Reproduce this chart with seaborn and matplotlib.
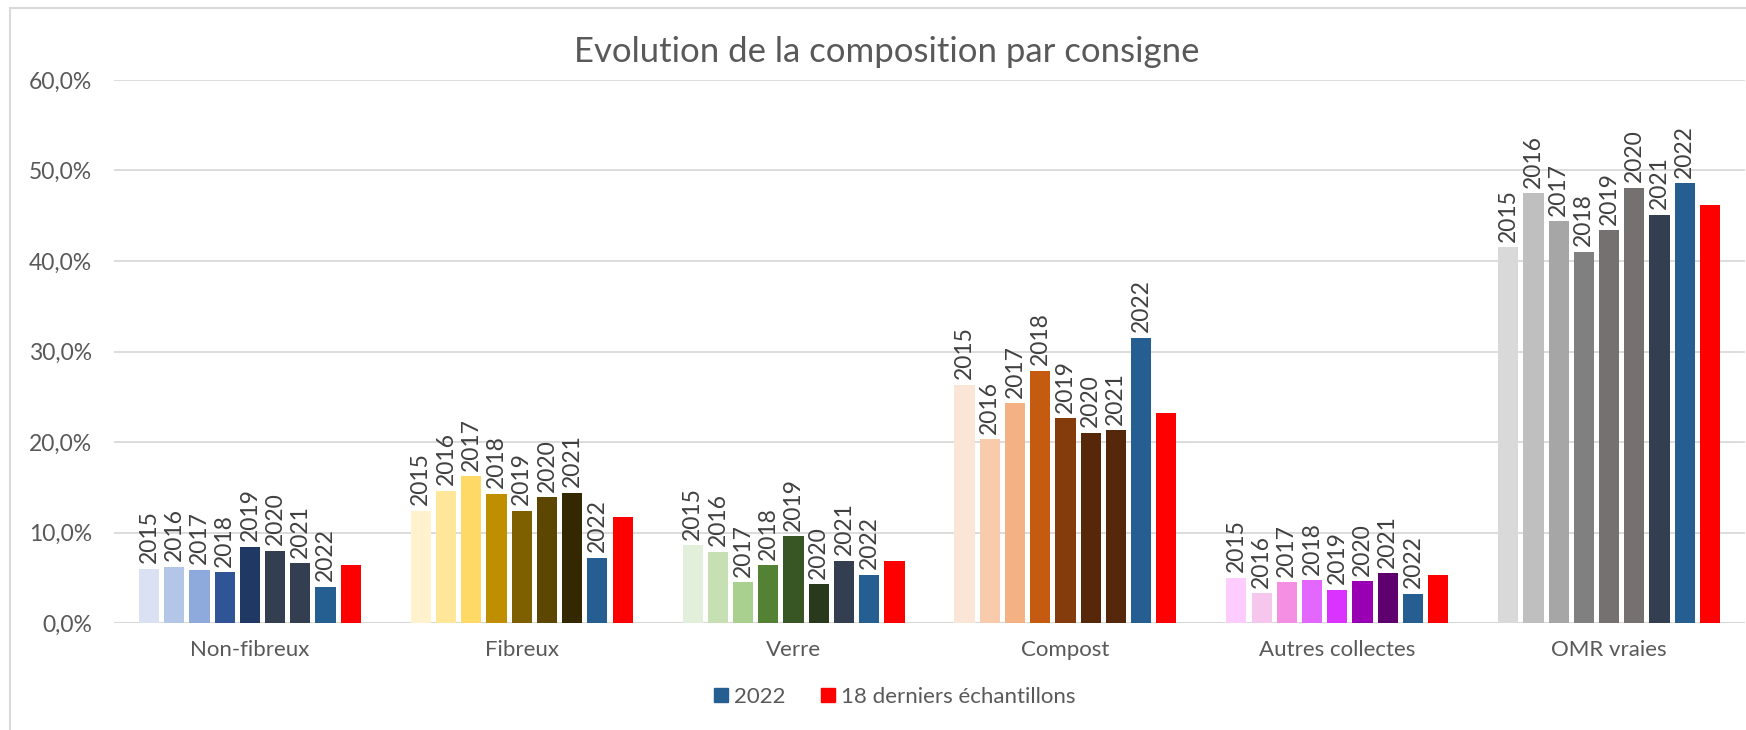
import matplotlib
matplotlib.use("Agg")
import matplotlib.pyplot as plt
from matplotlib.lines import Line2D
from matplotlib.patches import Rectangle
from matplotlib.ticker import FuncFormatter
import pandas as pd
import seaborn as sns

# data (percent)
categories = ["Non-fibreux", "Fibreux", "Verre", "Compost", "Autres collectes", "OMR vraies"]
series = ["2015", "2016", "2017", "2018", "2019", "2020", "2021", "2022", "18 derniers échantillons"]

v2015 = [6.0, 12.4, 8.6, 26.3, 5.0, 41.5]
v2016 = [6.2, 14.6, 7.9, 20.3, 3.3, 47.5]
v2017 = [5.9, 16.2, 4.5, 24.3, 4.5, 44.4]
v2018 = [5.6, 14.3, 6.4, 27.9, 4.7, 41.0]
v2019 = [8.4, 12.4, 9.6, 22.6, 3.7, 43.4]
v2020 = [8.0, 13.9, 4.3, 21.0, 4.6, 48.1]
v2021 = [6.6, 14.4, 6.9, 21.3, 5.5, 45.1]
v2022 = [4.0, 7.2, 5.3, 31.5, 3.2, 48.6]
v_last18 = [6.4, 11.7, 6.8, 23.2, 5.3, 46.2]

values = [v2015, v2016, v2017, v2018, v2019, v2020, v2021, v2022, v_last18]

# one colour ramp per category (2015 ... 2022, 18 derniers)
BLUE, RED = "#255E91", "#FF0000"
colors = {
    "Non-fibreux": ["#D9E1F2", "#B4C6E7", "#8EA9DB", "#2F5597", "#203864", "#333F50", "#333F50", BLUE, RED],
    "Fibreux": ["#FFF2CC", "#FFE699", "#FFD966", "#BF8F00", "#7F6000", "#5C4600", "#332800", BLUE, RED],
    "Verre": ["#E2EFDA", "#C6E0B4", "#A9D08E", "#548235", "#375623", "#28391C", "#333F50", BLUE, RED],
    "Compost": ["#FBE5D6", "#F8CBAD", "#F4B183", "#C55A11", "#843C0C", "#57270A", "#55280C", BLUE, RED],
    "Autres collectes": ["#FFCCFF", "#F6C6EC", "#F48FE4", "#E366FF", "#DA32FF", "#9900B3", "#5E006E", BLUE, RED],
    "OMR vraies": ["#D9D9D9", "#BFBFBF", "#A6A6A6", "#808080", "#767171", "#767171", "#333F50", BLUE, RED],
}

rows = []
for s, vals in zip(series, values):
    for c, v in zip(categories, vals):
        rows.append({"consigne": c, "serie": s, "valeur": v})
df = pd.DataFrame(rows)

sns.set_style("white")
plt.rcParams["font.family"] = ["Lato", "DejaVu Sans"]
TXT = "#595959"

fig = plt.figure(figsize=(17.46, 7.30), dpi=100)
ax = fig.add_axes([114 / 1746, 1 - 623 / 730, (1745 - 114) / 1746, (623 - 80) / 730])

sns.barplot(data=df, x="consigne", y="valeur", hue="serie", order=categories,
            hue_order=series, width=0.835, gap=0.2, palette=["#888888"] * len(series),
            legend=False, ax=ax, saturation=1)

for h, cont in enumerate(ax.containers):
    for c, bar in enumerate(cont):
        bar.set_facecolor(colors[categories[c]][h])
        bar.set_edgecolor("none")
        if h < 8:
            ax.annotate(series[h], (bar.get_x() + bar.get_width() / 2, bar.get_height()),
                        xytext=(0, 4), textcoords="offset points", rotation=90,
                        ha="center", va="bottom", fontsize=16.5, color="#404040")

ax.set_ylim(0, 60)
ax.set_xlim(-0.5, 5.5)
ax.set_yticks(range(0, 61, 10))
ax.yaxis.set_major_formatter(FuncFormatter(lambda v, p: f"{v:.1f}%".replace(".", ",")))
ax.yaxis.grid(True, color="#D9D9D9", linewidth=1.3)
ax.set_axisbelow(True)
sns.despine(ax=ax, left=True, bottom=True)
ax.axhline(0, color="#D9D9D9", linewidth=1.5, zorder=0.5)
ax.tick_params(axis="y", length=0, pad=16, labelsize=16.5, labelcolor=TXT)
ax.tick_params(axis="x", length=0, pad=12, labelsize=16, labelcolor=TXT)
ax.set_xlabel("")
ax.set_ylabel("")

fig.text(0.5 + 14 / 1746, 1 - 52 / 730, "Evolution de la composition par consigne",
         ha="center", va="center", fontsize=25, color=TXT)

handles = [Line2D([], [], marker="s", linestyle="none", markersize=10, color=BLUE),
           Line2D([], [], marker="s", linestyle="none", markersize=10, color=RED)]
fig.legend(handles, ["2022", "18 derniers échantillons"], loc="center",
           bbox_to_anchor=(893 / 1746, 1 - 697 / 730), ncol=2, frameon=False,
           fontsize=16, labelcolor=TXT, handletextpad=0.1, columnspacing=1.4,
           handlelength=1.0)

# chart frame
fig.patches.append(Rectangle((10 / 1746, -0.05), 1.1, 1 - 8 / 730 + 0.05,
                             transform=fig.transFigure, fill=False,
                             edgecolor="#D9D9D9", linewidth=1.5))

fig.savefig("out.png", dpi=100)
